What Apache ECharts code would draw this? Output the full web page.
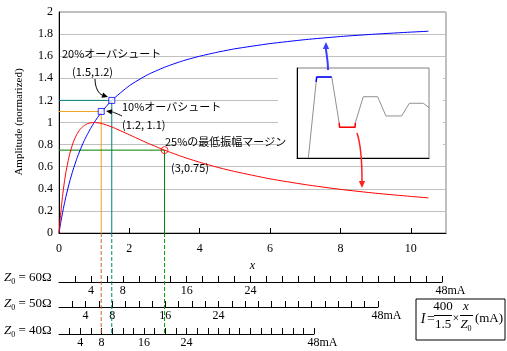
<!DOCTYPE html>
<html>
<head>
<meta charset="utf-8">
<script src="https://cdn.jsdelivr.net/npm/echarts@6/dist/echarts.min.js"></script>
<style>
html,body{margin:0;padding:0;background:#fff;}
#chart{width:507px;height:351px;}
</style>
</head>
<body>
<div id="chart"></div>
<script>
// ---- data ----
const xs       = [0,0.02,0.05,0.1,0.15,0.2,0.3,0.4,0.5,0.6,0.7,0.8,0.9,1,1.2,1.5,2,2.5,3,3.5,4,4.5,5,6,7,8,9,10,10.5];
const blueVals = [0,0.039,0.095,0.182,0.261,0.333,0.462,0.571,0.667,0.75,0.824,0.889,0.947,1,1.091,1.2,1.333,1.429,1.5,1.556,1.6,1.636,1.667,1.714,1.75,1.778,1.8,1.818,1.826];
const redVals  = [0,0.077,0.181,0.331,0.454,0.556,0.710,0.816,0.889,0.938,0.969,0.988,0.997,1,0.992,0.96,0.889,0.816,0.75,0.691,0.64,0.595,0.556,0.49,0.438,0.395,0.36,0.331,0.318];

const overshoot20 = [1.5, 1.2];
const overshoot10 = [1.2, 1.1];
const margin25    = [3, 0.75];
const dashBottom  = -0.91;   // level of the Z0=40 scale line, in y units

const xTickLabels = [0,2,4,6,8,10];
const yTickStep   = 0.2;

// current scales (mA)
const mAMax        = 48;
const mAStep       = 2;
const mATickLabels = [4, 8, 16, 24];
const z0Values     = [60, 50, 40];

// inset waveform (normalised time 0..100, amplitude 0..1)
const insetT     = [8.6,14.9,26.3,32.0,32.2,44.0,44.2,50.2,61.1,67.4,79.3,85.1,95.7,100];
const insetV     = [0,0.90,0.90,0.386,0.341,0.341,0.392,0.681,0.681,0.467,0.467,0.608,0.608,0.56];
const insetPeakT = [14.5,14.9,26.3];
const insetPeakV = [0.846,0.90,0.90];
const insetDipT  = [32.0,32.2,44.0,44.2];
const insetDipV  = [0.392,0.341,0.341,0.392];

// ---- build ----
const zip = (a,b) => a.map((v,i)=>[v,b[i]]);
const SERIF = '"Liberation Serif","Times New Roman",serif';
const JP = '"Noto Sans CJK JP",sans-serif';

const chart = echarts.init(document.getElementById('chart'), null, {renderer:'canvas'});

function arrow(p0, c1, c2, p3, color, w, hs, z) {
  const dx = p3[0]-c2[0], dy = p3[1]-c2[1];
  const L = Math.hypot(dx,dy) || 1;
  const ux = dx/L, uy = dy/L, px = -uy, py = ux;
  const bx = p3[0]-ux*hs, by = p3[1]-uy*hs;
  return [
    {type:'bezierCurve', z:z, shape:{x1:p0[0],y1:p0[1],cpx1:c1[0],cpy1:c1[1],cpx2:c2[0],cpy2:c2[1],x2:bx,y2:by},
     style:{stroke:color,lineWidth:w,fill:null}},
    {type:'polygon', z:z, shape:{points:[[p3[0],p3[1]],[bx+px*hs*0.45,by+py*hs*0.45],[bx-px*hs*0.45,by-py*hs*0.45]]},
     style:{fill:color,stroke:null}}
  ];
}

function txt(x, y, s, font, size, extra) {
  return Object.assign({type:'text', z:10, x:x, y:y,
    style:Object.assign({text:s, fontFamily:font, fontSize:size, fill:'#000', verticalAlign:'middle', align:'left'}, extra||{})});
}

const graphics = [];
// white backing for the inset
graphics.push({type:'rect', z:1, shape:{x:278,y:60,width:165,height:101}, style:{fill:'#fff',stroke:null}});
// annotations
graphics.push(txt(62, 54, '20%オーバシュート', JP, 11));
graphics.push(txt(72, 72, '(1.5,1.2)', JP, 11));
graphics.push(txt(122, 107, '10%オーバシュート', JP, 11));
graphics.push(txt(122, 125, '(1.2, 1.1)', JP, 11));
graphics.push(txt(165, 142, '25%の最低振幅マージン', JP, 11));
graphics.push(txt(171, 168, '(3,0.75)', JP, 11));
graphics.push(...arrow([95,79],[95,88],[99,94],[108,97],'#000',1,6,10));
graphics.push(...arrow([122,116],[118,114],[113,112],[106,111],'#000',1,6,10));
graphics.push(...arrow([328,70],[328,60],[326,52],[326,42],'#3d3dff',2,7,10));
graphics.push(...arrow([357,133],[361,145],[362,165],[362,188],'#ff2020',1.5,7,10));
// y-axis title
graphics.push({type:'text', z:10, x:19, y:122, rotation:Math.PI/2,
  style:{text:'Amplitude (normarized)', fontFamily:SERIF, fontSize:11, fill:'#000', align:'center', verticalAlign:'middle'}});
// Z0 labels
const zLabelY = [278, 304, 331];
z0Values.forEach((z,i)=>{
  graphics.push({type:'text', z:10, x:4, y:zLabelY[i],
    style:{text:'{z|Z}{s|0}{n| = '+z+'Ω}', verticalAlign:'middle', align:'left', fill:'#000',
      rich:{z:{fontFamily:SERIF,fontStyle:'italic',fontSize:13},
            s:{fontFamily:SERIF,fontSize:8,padding:[7,0,0,0]},
            n:{fontFamily:SERIF,fontSize:13}}}});
});
// formula box
graphics.push({type:'rect', z:10, shape:{x:416,y:299,width:89,height:41}, style:{fill:null,stroke:'#000',lineWidth:1}});
graphics.push(txt(423, 319, 'I', SERIF, 14, {fontStyle:'italic', align:'center'}));
graphics.push(txt(431, 319, '=', SERIF, 14, {align:'center'}));
graphics.push(txt(443, 307, '400', SERIF, 13, {align:'center'}));
graphics.push({type:'line', z:10, shape:{x1:434,y1:315.5,x2:452,y2:315.5}, style:{stroke:'#000',lineWidth:1}});
graphics.push(txt(443, 325, '1.5', SERIF, 13, {align:'center'}));
graphics.push(txt(456, 319, '×', SERIF, 12, {align:'center'}));
graphics.push(txt(466, 307, 'x', SERIF, 13, {fontStyle:'italic', align:'center'}));
graphics.push({type:'line', z:10, shape:{x1:460,y1:315.5,x2:473,y2:315.5}, style:{stroke:'#000',lineWidth:1}});
graphics.push({type:'text', z:10, x:466, y:325, style:{text:'{z|Z}{s|0}', align:'center', verticalAlign:'middle', fill:'#000',
  rich:{z:{fontFamily:SERIF,fontStyle:'italic',fontSize:13}, s:{fontFamily:SERIF,fontSize:8,padding:[7,0,0,0]}}}});
graphics.push(txt(489, 319, '(mA)', SERIF, 13, {align:'center'}));

// bottom current scales: one grid + axis per Z0
const scaleGrids = [
  {left:59, top:281, width:383, height:1},
  {left:59, top:306, width:319, height:1},
  {left:59, top:333, width:255, height:1}
];
const scaleX = z0Values.map((z,i)=>({
  type:'value', gridIndex:2+i, min:0, max:mAMax, interval:mAStep, position:'bottom',
  axisLine:{show:true, onZero:false, lineStyle:{color:'#000',width:1}},
  axisTick:{show:true, inside:true, length:6, lineStyle:{color:'#000'}},
  splitLine:{show:false},
  axisLabel:{show:true, margin:3, fontFamily:SERIF, fontSize:12, color:'#000',
    showMinLabel:false, showMaxLabel:true,
    formatter:v=> v===mAMax ? '{e|'+mAMax+'mA}' : (mATickLabels.includes(v)? String(v):''),
    rich:{e:{fontFamily:SERIF,fontSize:12,color:'#000',padding:[0,0,0,17]}}}
}));
const scaleY = z0Values.map((z,i)=>({type:'value', gridIndex:2+i, show:false, min:0, max:1}));

const guide = (p,color)=>({type:'line', xAxisIndex:0, yAxisIndex:0, data:[[0,p[1]],[p[0],p[1]],[p[0],0]],
  symbol:'none', lineStyle:{color:color,width:1}, z:3, silent:true});
const dash = (p,color)=>({type:'line', xAxisIndex:0, yAxisIndex:0, clip:false, data:[[p[0],0],[p[0],dashBottom]],
  symbol:'none', lineStyle:{color:color,width:1,type:[4,2]}, z:3, silent:true});

const option = {
  animation:false,
  backgroundColor:'#fff',
  grid:[
    {left:59, top:12, width:387, height:221, show:true, borderColor:'#808080', borderWidth:1, backgroundColor:'transparent'},
    {left:297, top:68, width:132, height:90, show:true, borderColor:'#808080', borderWidth:1, backgroundColor:'#fff', z:3}
  ].concat(scaleGrids),
  xAxis:[
    {type:'value', gridIndex:0, min:0, max:11, interval:2,
     name:'x', nameLocation:'middle', nameGap:23,
     nameTextStyle:{fontFamily:SERIF, fontStyle:'italic', fontSize:12, color:'#000'},
     axisLine:{show:true, onZero:false, lineStyle:{color:'#000'}},
     axisTick:{show:true, inside:true, length:5, lineStyle:{color:'#000'}},
     splitLine:{show:false},
     axisLabel:{margin:10, fontFamily:SERIF, fontSize:12, color:'#000', showMaxLabel:false,
       formatter:v=> xTickLabels.includes(v)? String(v):''}},
    {type:'value', gridIndex:1, min:0, max:100, z:3,
     axisLine:{show:true, onZero:false, lineStyle:{color:'#000'}}, axisTick:{show:false}, axisLabel:{show:false}, splitLine:{show:false}}
  ].concat(scaleX),
  yAxis:[
    {type:'value', gridIndex:0, min:0, max:2, interval:yTickStep,
     axisLine:{show:true, onZero:false, lineStyle:{color:'#000'}},
     axisTick:{show:false},
     splitLine:{show:true, lineStyle:{color:'#c0c0c0', width:1}},
     axisLabel:{margin:6, fontFamily:SERIF, fontSize:12, color:'#000',
       formatter:v=> String(Math.round(v*10)/10)}},
    {type:'value', gridIndex:1, min:0, max:1, z:3,
     axisLine:{show:true, onZero:false, lineStyle:{color:'#000'}}, axisTick:{show:false}, axisLabel:{show:false}, splitLine:{show:false}}
  ].concat(scaleY),
  series:[
    guide(overshoot20,'#008080'),
    guide(overshoot10,'#f0a020'),
    guide(margin25,'#008000'),
    dash(overshoot10,'#c8642a'),
    dash(overshoot20,'#008080'),
    dash(margin25,'#00a000'),
    {type:'line', xAxisIndex:0, yAxisIndex:0, data:zip(xs,blueVals), symbol:'none', smooth:0.2,
     lineStyle:{color:'#0000ff',width:1}, z:4},
    {type:'line', xAxisIndex:0, yAxisIndex:0, data:zip(xs,redVals), symbol:'none', smooth:0.2,
     lineStyle:{color:'#ff0000',width:1}, z:4},
    {type:'scatter', xAxisIndex:0, yAxisIndex:0, data:[overshoot20, overshoot10], symbol:'rect', symbolSize:6,
     itemStyle:{color:'#fff', borderColor:'#0000ff', borderWidth:1}, z:5},
    {type:'scatter', xAxisIndex:0, yAxisIndex:0, data:[margin25], symbol:'circle', symbolSize:7,
     itemStyle:{color:'transparent', borderColor:'#ff0000', borderWidth:1}, z:5},
    {type:'line', xAxisIndex:1, yAxisIndex:1, data:zip(insetT,insetV), symbol:'none',
     lineStyle:{color:'#909090',width:1}, z:6},
    {type:'line', xAxisIndex:1, yAxisIndex:1, data:zip(insetPeakT,insetPeakV), symbol:'none',
     lineStyle:{color:'#0000ff',width:1.5}, z:7},
    {type:'line', xAxisIndex:1, yAxisIndex:1, data:zip(insetDipT,insetDipV), symbol:'none',
     lineStyle:{color:'#ff0000',width:1.5}, z:7}
  ],
  graphic:graphics
};
chart.setOption(option);
</script>
</body>
</html>
